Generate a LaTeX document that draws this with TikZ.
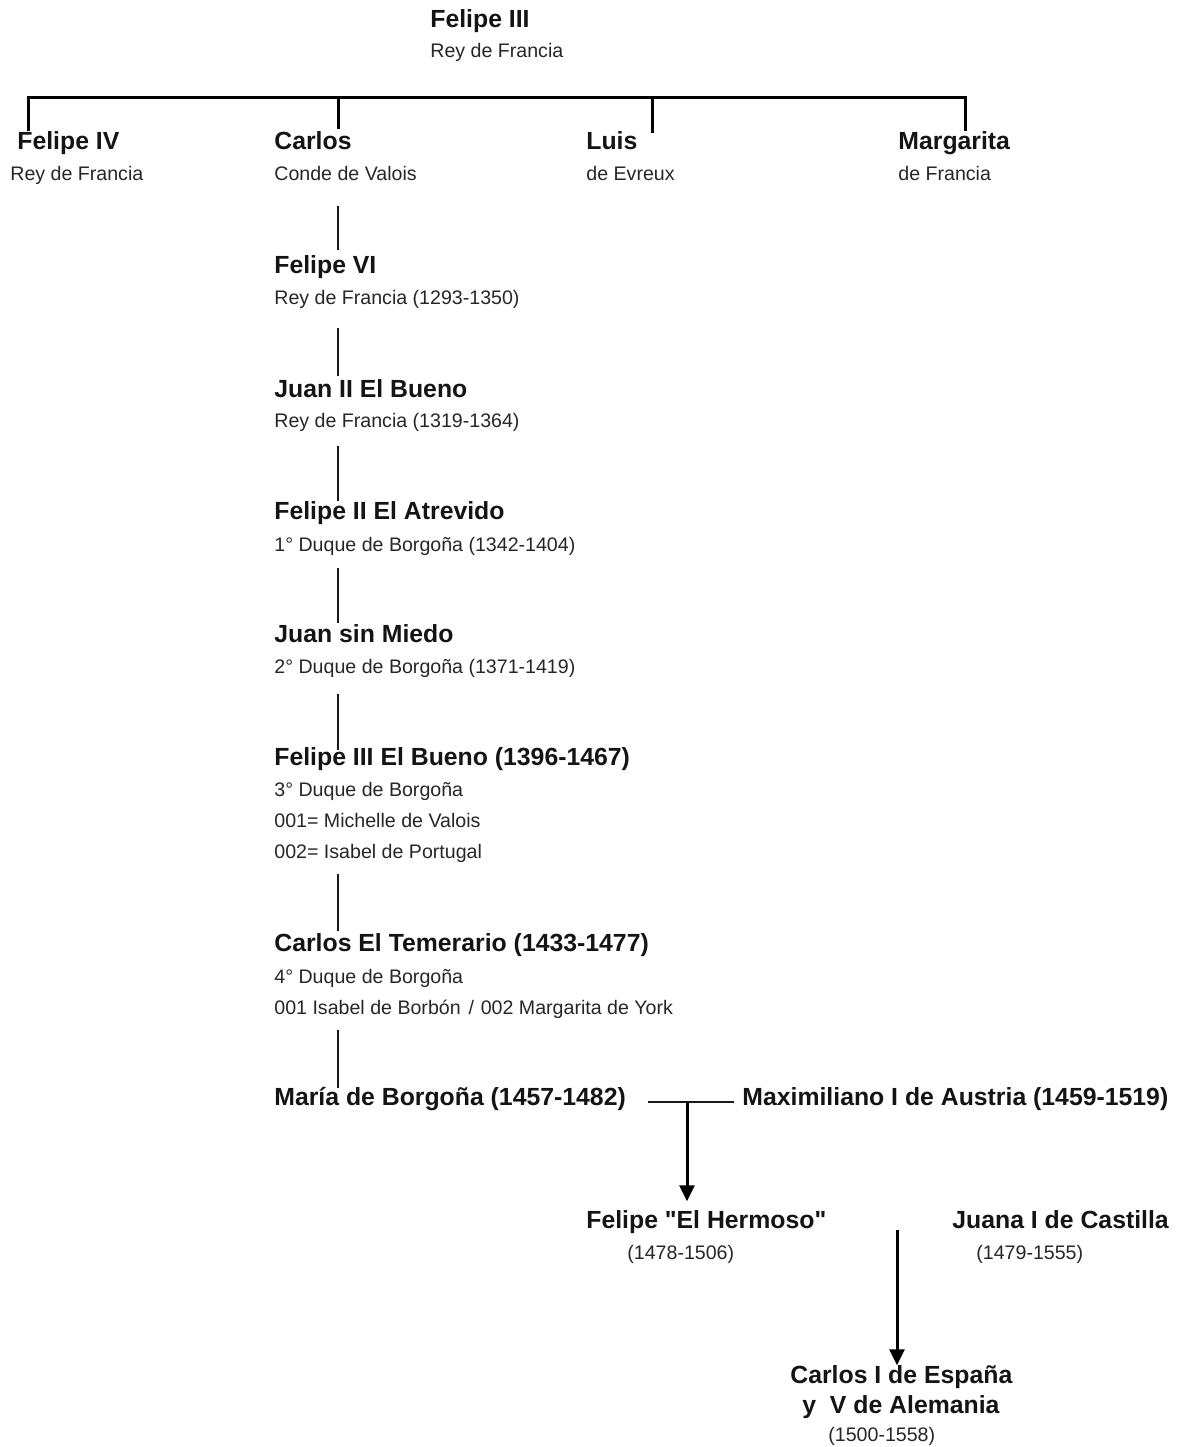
\documentclass[tikz,border=0pt]{standalone}
\usepackage{fontspec}
\setmainfont{Liberation Sans}[Ligatures=TeXOff]
\usetikzlibrary{arrows.meta}
\tikzset{
  nm/.style={anchor=base west, inner sep=0pt, text=black!92,
    font=\fontsize{12.4}{14}\selectfont\bfseries, text height=0.716em, text depth=0.21em},
  sb/.style={anchor=base west, inner sep=0pt, text=black!85,
    font=\fontsize{9.8}{12}\selectfont, text height=0.716em, text depth=0.21em},
  chain/.style={line width=1.4pt, black!90},
  bar/.style={line width=1.5pt, black},
  desc/.style={line width=1.5pt, black, -{Triangle[length=8pt,width=7.5pt]}},
}
\begin{document}
\begin{tikzpicture}[x=0.5pt,y=-0.5pt]
\useasboundingbox (0,0) rectangle (1183,1447);
% top
\node[nm] (f3n) at (430,27) {Felipe III};
\node[sb] (f3s) at (430,57) {Rey de Francia};
% children
\node[nm] (f4n) at (17,149) {Felipe IV};
\node[sb] (f4s) at (10,180) {Rey de Francia};
\node[nm] (can) at (274,149) {Carlos};
\node[sb] (cas) at (274,180) {Conde de Valois};
\node[nm] (lun) at (586,149) {Luis};
\node[sb] (lus) at (586,180) {de Evreux};
\node[nm] (man) at (898,149) {Margarita};
\node[sb] (mas) at (898,180) {de Francia};
% chain
\node[nm] (f6n) at (274,273) {Felipe VI};
\node[sb] (f6s) at (274,304) {Rey de Francia (1293-1350)};
\node[nm] (j2n) at (274,397) {Juan II El Bueno};
\node[sb] (j2s) at (274,427) {Rey de Francia (1319-1364)};
\node[nm] (f2n) at (274,519) {Felipe II El Atrevido};
\node[sb] (f2s) at (274,551) {1° Duque de Borgoña (1342-1404)};
\node[nm] (jmn) at (274,642) {Juan sin Miedo};
\node[sb] (jms) at (274,673) {2° Duque de Borgoña (1371-1419)};
\node[nm] (fbn) at (274,765) {Felipe III El Bueno (1396-1467)};
\node[sb] (fbs1) at (274,796) {3° Duque de Borgoña};
\node[sb] (fbs2) at (274,827) {001= Michelle de Valois};
\node[sb] (fbs3) at (274,858) {002= Isabel de Portugal};
\node[nm] (ctn) at (274,951) {Carlos El Temerario (1433-1477)};
\node[sb] (cts1) at (274,983) {4° Duque de Borgoña};
\node[sb] (cts2) at (274,1014) {001 Isabel de Borbón\hspace{0.4em}/\hspace{0.35em}002 Margarita de York};
\node[nm] (mbn) at (274,1105) {María de Borgoña (1457-1482)};
\node[nm] (mxn) at (742,1105) {Maximiliano I de Austria (1459-1519)};
\node[nm] (fhn) at (586,1228) {Felipe "El Hermoso"};
\node[sb] (fhs) at (627,1259) {(1478-1506)};
\node[nm] (jcn) at (952,1228) {Juana I de Castilla};
\node[sb] (jcs) at (976,1259) {(1479-1555)};
\node[nm] (c1n) at (790,1383) {Carlos I de España};
\node[nm] (c1b) at (802,1413) {y\ \ V de Alemania};
\node[sb] (c1s) at (828,1441) {(1500-1558)};
% coordinates
\coordinate (barL) at (28,97);
\coordinate (barR) at (965,97);
\coordinate (axis) at (338,97);
\coordinate (luD) at (652,97);
\coordinate (mar) at (687,1102);
\coordinate (mar2) at (897,1230);
% top bar
\draw[bar, shorten <=1.5pt, shorten >=1.5pt] (f4n.north -| barL) -- (barL) -- (barR) -- (man.north -| barR);
\draw[bar, shorten >=2.5pt] (axis) -- (can.north -| axis);
\draw[bar, shorten >=0.5pt] (luD) -- (lun.north -| luD);
% chain
\draw[chain, shorten <=10.5pt, shorten >=4pt] (cas.south -| axis) -- (f6n.north -| axis);
\draw[chain, shorten <=9.5pt, shorten >=3pt] (f6s.south -| axis) -- (j2n.north -| axis);
\draw[chain, shorten <=7pt, shorten >=1.5pt] (j2s.south -| axis) -- (f2n.north -| axis);
\draw[chain, shorten <=6pt, shorten >=2pt] (f2s.south -| axis) -- (jmn.north -| axis);
\draw[chain, shorten <=8pt] (jms.south -| axis) -- (fbn.north -| axis);
\draw[chain, shorten <=5.5pt, shorten >=2.5pt] (fbs3.south -| axis) -- (ctn.north -| axis);
\draw[chain, shorten <=5.5pt, shorten >=1pt] (cts2.south -| axis) -- (mbn.north -| axis);
% marriage
\draw[chain, shorten <=11pt, shorten >=4pt] (mbn.east |- mar) -- (mxn.west |- mar);
\draw[desc, shorten >=6pt] (mar) -- (fhn.north -| mar);
\draw[desc, shorten >=1.5pt] (mar2) -- (c1n.north -| mar2);
\end{tikzpicture}
\end{document}
